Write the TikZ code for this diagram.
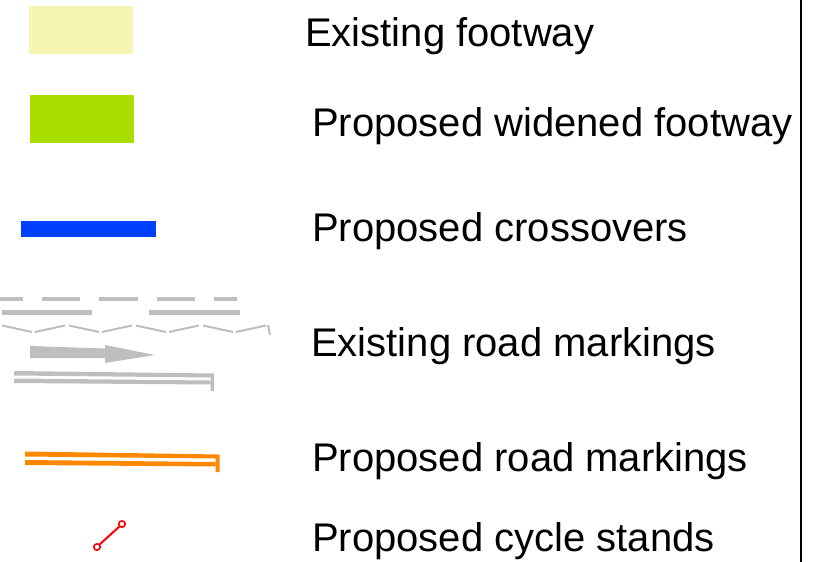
\documentclass[tikz,border=0pt]{standalone}
\usepackage{fontspec}
\setmainfont{Liberation Sans}
\usepackage{tikz}
\definecolor{footway}{RGB}{247,245,178}
\definecolor{widened}{RGB}{168,222,0}
\definecolor{crossover}{RGB}{0,64,255}
\definecolor{roadgrey}{RGB}{190,190,190}
\definecolor{roadorange}{RGB}{255,136,0}
\newcommand{\legendfont}{\fontsize{40}{47}\selectfont}
\tikzset{legendtext/.style={anchor=base west, inner sep=0pt, font=\legendfont}}

\begin{document}
\begin{tikzpicture}[x=1pt, y=-1pt]
            \useasboundingbox (0,0) rectangle (830,562);
            \draw[line width=2pt] (800.5,0) -- (800.5,562);

            \fill[footway] (29,6) rectangle (133,54);
            \node[legendtext] (existfoot) at (305,46) {Existing footway};

            \fill[widened] (30,95) rectangle (134,143);
            \node[legendtext] (widefoot) at (312,136) {Proposed widened footway};

            \fill[crossover] (21,221) rectangle (156,237);
            \node[legendtext] (crossovers) at (312,241.5) {Proposed crossovers};

            \foreach \x/\w in {0/23, 42/38, 99/39, 157/38, 214/23}
                \fill[roadgrey] (\x,296.5) rectangle ++(\w,4.5);
            \fill[roadgrey] (2,309.5) rectangle (92,315);
            \fill[roadgrey] (149,309.5) rectangle (240,315);
            \foreach \x in {0,67,134,201}
                \draw[roadgrey, line width=2pt] (\x+2,325.5) -- (\x+32,332) (\x+35,332) -- (\x+65,325.5);
            \draw[roadgrey, line width=2pt] (268,325) -- (270,335);
            \fill[roadgrey] (30,346) -- (105,348.5) -- (105,345) -- (155,355) -- (105,363) -- (105,358) -- (30,358) -- cycle;
            \fill[roadgrey] (14,371) -- (214,373.5) -- (214,391) -- (210.5,391) -- (210.5,377.5) -- (14,375.5) -- cycle;
            \fill[roadgrey] (14,378.5) -- (210.5,380.5) -- (210.5,384.5) -- (14,383) -- cycle;
            \node[legendtext] (existroad) at (311,356.5) {Existing road markings};

            \fill[roadorange] (25,451.5) -- (219.5,454.5) -- (219.5,472) -- (215.5,472) -- (215.5,458.5) -- (25,456.5) -- cycle;
            \fill[roadorange] (25,460) -- (215.5,462) -- (215.5,466.5) -- (25,465) -- cycle;
            \node[legendtext] (proproad) at (312,471.5) {Proposed road markings};

            \draw[red, line width=2pt] (99,545) -- (120,526);
            \draw[red, line width=1.6pt, fill=white] (97,547) circle (3.2);
            \draw[red, line width=1.6pt, fill=white] (122,524) circle (3.2);
            \node[legendtext] (cyclestands) at (312,551.5) {Proposed cycle stands};
        \end{tikzpicture}
\end{document}
